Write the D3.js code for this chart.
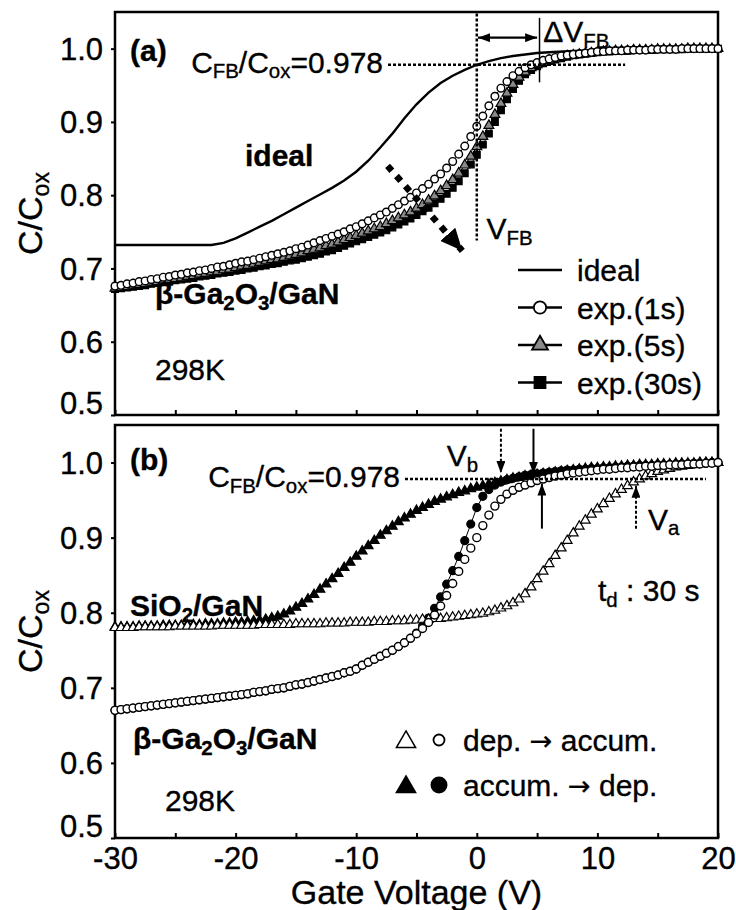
<!DOCTYPE html>
<html>
<head>
<meta charset="utf-8">
<script src="https://cdn.jsdelivr.net/npm/d3@7"></script>
<style>
  html, body { margin: 0; padding: 0; background: #fff; }
  svg text { font-family: "Liberation Sans", Arial, Helvetica, sans-serif; fill: #000; stroke: #000; stroke-width: 0.35px; }
</style>
</head>
<body>
<svg id="chart" width="736" height="910"></svg>
<script>
// Gate-voltage sweep points (V), shared by every measured C-V series
const sweepV = [-30,-29.5,-29,-28.5,-28,-27.5,-27,-26.5,-26,-25.5,-25,-24.5,-24,-23.5,-23,-22.5,-22,-21.5,-21,-20.5,-20,
  -19.5,-19,-18.5,-18,-17.5,-17,-16.5,-16,-15.5,-15,-14.5,-14,-13.5,-13,-12.5,-12,-11.5,-11,-10.5,-10,
  -9.5,-9,-8.5,-8,-7.5,-7,-6.5,-6,-5.5,-5,-4.5,-4,-3.5,-3,-2.5,-2,-1.5,-1,-0.5,0,
  0.5,1,1.5,2,2.5,3,3.5,4,4.5,5,5.5,6,6.5,7,7.5,8,8.5,9,9.5,10,
  10.5,11,11.5,12,12.5,13,13.5,14,14.5,15,15.5,16,16.5,17,17.5,18,18.5,19,19.5,20];

// (a) ideal C-V curve
const idealV = [-30,-22,-21,-20,-19,-18,-17,-16,-15,-14,-13,-12,-11,-10,-9,-8,-7,-6,-5,-4,-3,-2,-1,0,
  1,2,3,4,5,6,8,10,12,15,20];
const idealC = [0.732,0.732,0.735,0.741,0.749,0.757,0.765,0.774,0.783,0.792,0.801,0.810,0.820,0.832,0.847,0.865,0.884,0.905,0.924,0.940,0.953,0.963,0.971,0.978,
  0.983,0.987,0.990,0.992,0.994,0.995,0.997,0.998,0.999,1.0,1.0];

// (a) beta-Ga2O3/GaN, delay 1 s
const exp1s = [0.676,0.677,0.679,0.680,0.682,0.683,0.685,0.686,0.688,0.689,0.691,0.692,0.694,0.695,0.697,0.698,0.700,0.702,0.703,0.705,0.707,
  0.709,0.710,0.712,0.714,0.716,0.718,0.720,0.722,0.724,0.727,0.729,0.732,0.735,0.738,0.741,0.744,0.747,0.750,0.754,0.757,
  0.761,0.765,0.769,0.773,0.777,0.782,0.787,0.792,0.797,0.803,0.809,0.815,0.822,0.829,0.837,0.846,0.856,0.867,0.880,0.894,
  0.908,0.922,0.935,0.946,0.955,0.963,0.969,0.974,0.978,0.981,0.984,0.986,0.988,0.990,0.991,0.992,0.993,0.994,0.995,0.996,
  0.996,0.997,0.997,0.997,0.998,0.998,0.998,0.998,0.999,0.999,0.999,0.999,0.999,1.000,1.000,1.000,1.000,1.000,1.000,1.000];

// (a) delay 5 s
const exp5s = [0.673,0.674,0.675,0.677,0.678,0.679,0.681,0.682,0.683,0.685,0.686,0.687,0.689,0.690,0.692,0.693,0.695,0.696,0.698,0.699,0.701,
  0.703,0.704,0.706,0.708,0.710,0.712,0.713,0.715,0.717,0.719,0.721,0.724,0.726,0.728,0.731,0.733,0.736,0.739,0.742,0.745,
  0.748,0.751,0.754,0.757,0.761,0.765,0.769,0.773,0.777,0.782,0.787,0.793,0.799,0.806,0.813,0.821,0.830,0.841,0.853,0.866,
  0.880,0.895,0.910,0.925,0.939,0.951,0.961,0.968,0.974,0.978,0.981,0.984,0.986,0.988,0.990,0.991,0.992,0.993,0.994,0.995,
  0.996,0.996,0.997,0.997,0.997,0.998,0.998,0.998,0.998,0.999,0.999,0.999,0.999,0.999,1.000,1.000,1.000,1.000,1.000,1.000];

// (a) delay 30 s
const exp30s = [0.672,0.673,0.674,0.675,0.676,0.677,0.679,0.680,0.681,0.682,0.684,0.685,0.686,0.687,0.689,0.690,0.691,0.693,0.694,0.695,0.697,
  0.698,0.700,0.701,0.703,0.704,0.706,0.707,0.709,0.711,0.712,0.714,0.716,0.718,0.720,0.723,0.725,0.728,0.731,0.734,0.737,
  0.740,0.743,0.746,0.749,0.752,0.756,0.760,0.764,0.768,0.773,0.778,0.783,0.789,0.795,0.802,0.810,0.819,0.830,0.842,0.855,
  0.869,0.884,0.900,0.916,0.931,0.945,0.956,0.965,0.971,0.976,0.980,0.983,0.985,0.987,0.989,0.991,0.992,0.993,0.994,0.995,
  0.996,0.996,0.997,0.997,0.997,0.998,0.998,0.998,0.998,0.999,0.999,0.999,0.999,0.999,1.000,1.000,1.000,1.000,1.000,1.000];

// (b) SiO2/GaN, depletion -> accumulation (open triangles)
const sio2Dep = [0.780,0.780,0.780,0.780,0.781,0.781,0.781,0.781,0.781,0.781,0.782,0.782,0.782,0.782,0.782,0.782,0.782,0.783,0.783,0.783,0.783,
  0.783,0.783,0.783,0.784,0.784,0.784,0.784,0.784,0.784,0.785,0.785,0.785,0.785,0.785,0.786,0.786,0.786,0.786,0.787,0.787,
  0.787,0.787,0.788,0.788,0.788,0.789,0.789,0.789,0.790,0.790,0.791,0.791,0.792,0.792,0.793,0.794,0.795,0.796,0.797,0.798,
  0.799,0.801,0.803,0.806,0.809,0.813,0.818,0.825,0.834,0.845,0.855,0.865,0.876,0.886,0.896,0.906,0.915,0.923,0.931,0.938,
  0.945,0.952,0.958,0.964,0.969,0.974,0.978,0.982,0.985,0.988,0.990,0.992,0.994,0.995,0.996,0.997,0.998,0.999,0.999,1.000];

// (b) SiO2/GaN, accumulation -> depletion (filled triangles)
const sio2Acc = [0.781,0.781,0.781,0.781,0.782,0.782,0.782,0.782,0.783,0.783,0.783,0.783,0.784,0.784,0.784,0.785,0.785,0.785,0.786,0.786,0.787,
  0.787,0.788,0.789,0.790,0.791,0.793,0.795,0.798,0.802,0.807,0.812,0.818,0.824,0.831,0.838,0.845,0.852,0.860,0.867,0.875,
  0.882,0.889,0.896,0.903,0.909,0.915,0.921,0.926,0.931,0.936,0.940,0.944,0.948,0.951,0.954,0.957,0.960,0.962,0.965,0.967,
  0.969,0.971,0.973,0.975,0.977,0.979,0.980,0.982,0.983,0.984,0.985,0.986,0.987,0.988,0.989,0.990,0.991,0.992,0.993,0.993,
  0.994,0.994,0.995,0.995,0.996,0.996,0.997,0.997,0.997,0.998,0.998,0.998,0.999,0.999,0.999,0.999,1.000,1.000,1.000,1.000];

// (b) beta-Ga2O3/GaN, depletion -> accumulation (open circles)
const gaDep = [0.670,0.671,0.672,0.673,0.674,0.675,0.676,0.677,0.678,0.679,0.680,0.681,0.682,0.683,0.684,0.685,0.686,0.687,0.688,0.689,0.690,
  0.691,0.692,0.694,0.695,0.696,0.698,0.699,0.700,0.702,0.704,0.705,0.707,0.709,0.711,0.713,0.715,0.717,0.720,0.722,0.725,
  0.730,0.734,0.738,0.742,0.746,0.750,0.755,0.760,0.766,0.772,0.779,0.787,0.797,0.809,0.823,0.839,0.855,0.871,0.886,0.900,
  0.916,0.930,0.942,0.951,0.958,0.963,0.967,0.970,0.973,0.976,0.978,0.980,0.982,0.983,0.985,0.986,0.987,0.988,0.989,0.990,
  0.991,0.991,0.992,0.993,0.993,0.994,0.994,0.995,0.995,0.996,0.996,0.997,0.997,0.997,0.998,0.998,0.998,0.999,0.999,1.000];

// (b) beta-Ga2O3/GaN, accumulation -> depletion (filled circles)
const gaAcc = [0.670,0.671,0.672,0.673,0.674,0.675,0.676,0.677,0.678,0.679,0.680,0.681,0.682,0.683,0.684,0.685,0.686,0.687,0.688,0.689,0.690,
  0.691,0.692,0.694,0.695,0.696,0.698,0.699,0.700,0.702,0.704,0.705,0.707,0.709,0.711,0.713,0.715,0.717,0.720,0.722,0.725,
  0.730,0.734,0.738,0.742,0.746,0.750,0.755,0.760,0.766,0.773,0.782,0.793,0.806,0.821,0.838,0.856,0.875,0.896,0.918,0.940,
  0.955,0.964,0.970,0.974,0.977,0.979,0.981,0.983,0.984,0.985,0.986,0.987,0.988,0.989,0.990,0.990,0.991,0.991,0.992,0.992,
  0.993,0.993,0.994,0.994,0.995,0.995,0.996,0.996,0.996,0.997,0.997,0.997,0.998,0.998,0.998,0.999,0.999,0.999,1.000,1.000];

// axis ticks
const xTicks = [-30,-25,-20,-15,-10,-5,0,5,10,15,20];
const xLabelTicks = [-30,-20,-10,0,10,20];
const yTicks = [0.5,0.6,0.7,0.8,0.9,1.0];

// flat-band reference
const cfbRatio = 0.978;

const svg = d3.select("#chart");
const FONT = 30;

const x = d3.scaleLinear().domain([-30, 20]).range([115, 718]);
const yA = d3.scaleLinear().domain([0.5, 1.05]).range([415, 12]);
const yB = d3.scaleLinear().domain([0.5, 1.05]).range([838, 425]);

// arrowhead markers
const defs = svg.append("defs");
function arrowMarker(id, w, h) {
  defs.append("marker").attr("id", id)
    .attr("viewBox", `0 0 ${w} ${h}`).attr("refX", w).attr("refY", h / 2)
    .attr("markerUnits", "userSpaceOnUse")
    .attr("markerWidth", w).attr("markerHeight", h).attr("orient", "auto-start-reverse")
    .append("path").attr("d", `M0,0L${w},${h / 2}L0,${h}Z`).attr("fill", "#000");
}
arrowMarker("headSmall", 12, 9);
arrowMarker("headBig", 22, 20);

// text with optional subscript pieces: parts = ["C", ["FB","sub"], ...]
function richText(g, tx, ty, parts, opt = {}) {
  const size = opt.size || FONT;
  const t = g.append("text")
    .attr("x", tx).attr("y", ty)
    .attr("font-size", size)
    .attr("font-weight", opt.weight || "normal")
    .attr("text-anchor", opt.anchor || "start")
    .attr("dominant-baseline", "central");
  if (opt.transform) t.attr("transform", opt.transform);
  let off = 0;
  parts.forEach(p => {
    const s = Array.isArray(p) ? p[0] : p;
    const kind = Array.isArray(p) ? p[1] : null;
    const target = kind === "sub" ? size * 0.32 : 0;
    const ts = t.append("tspan").text(s).attr("dy", target - off);
    if (kind === "sub") ts.attr("font-size", size * 0.68);
    if (kind === "sym") ts.attr("font-family", "DejaVu Sans").attr("font-size", size * 0.9);
    off = target;
  });
  return t;
}

function frame(g, y, showXLabels) {
  // y axis
  const ya = g.append("g").attr("transform", `translate(${x.range()[0]},0)`)
    .call(d3.axisLeft(y).tickValues(yTicks).tickSize(4).tickPadding(8).tickFormat(d3.format(".1f")));
  ya.select(".domain").remove();
  ya.selectAll(".tick line").attr("stroke-width", 2);
  ya.selectAll(".tick text").attr("font-size", 31).attr("font-family", null)
    .attr("dy", d => d === 0.5 ? "-0.05em" : "0.34em");
  // x axis (ticks pointing inward)
  const xa = g.append("g").attr("transform", `translate(0,${y.range()[0]})`)
    .call(d3.axisBottom(x).tickValues(xTicks).tickSize(-5).tickPadding(6)
      .tickFormat(d => showXLabels && xLabelTicks.includes(d) ? String(d) : ""));
  xa.select(".domain").remove();
  xa.selectAll(".tick line").attr("stroke-width", 2);
  xa.selectAll(".tick text").attr("font-size", 31).attr("font-family", null).attr("dy", "0.8em");
  // plot border
  g.append("rect")
    .attr("x", x.range()[0]).attr("y", y.range()[1])
    .attr("width", x.range()[1] - x.range()[0]).attr("height", y.range()[0] - y.range()[1])
    .attr("fill", "none").attr("stroke", "#000").attr("stroke-width", 2.5);
}

function series(g, y, vals, shape, size, fill, lineW, strokeW) {
  const data = vals.map((c, i) => ({ v: sweepV[i], c }));
  if (lineW) {
    g.append("path").datum(data)
      .attr("d", d3.line().x(d => x(d.v)).y(d => y(d.c)))
      .attr("fill", "none").attr("stroke", "#000").attr("stroke-width", lineW);
  }
  g.append("g").selectAll("path").data(data).join("path")
    .attr("transform", d => `translate(${x(d.v)},${y(d.c)})`)
    .attr("d", d3.symbol(shape, size)())
    .attr("fill", fill).attr("stroke", "#000").attr("stroke-width", strokeW || 1.2);
}

function cfbLine(g, y, textEnd, lineStart, lineEnd) {
  richText(g, textEnd, y(cfbRatio) - 3, ["C", ["FB", "sub"], "/C", ["ox", "sub"], "=0.978"], { anchor: "end" });
  g.append("line")
    .attr("x1", lineStart).attr("x2", lineEnd)
    .attr("y1", y(cfbRatio)).attr("y2", y(cfbRatio))
    .attr("stroke", "#000").attr("stroke-width", 2.5).attr("stroke-dasharray", "3,2");
}

function yTitle(y) {
  const mid = (y.range()[0] + y.range()[1]) / 2;
  richText(svg, 0, 0, ["C/C", ["ox", "sub"]], {
    size: 34, anchor: "middle", transform: `translate(30,${mid}) rotate(-90)`
  });
}

// ---------- panel (a) ----------
const gA = svg.append("g");
frame(gA, yA, false);

gA.append("path").datum(idealV.map((v, i) => ({ v, c: idealC[i] })))
  .attr("d", d3.line().x(d => x(d.v)).y(d => yA(d.c)))
  .attr("fill", "none").attr("stroke", "#000").attr("stroke-width", 2.4);

series(gA, yA, exp30s, d3.symbolSquare, 46, "#000", 1);
series(gA, yA, exp5s, d3.symbolTriangle, 42, "#8a8a8a", 1);
series(gA, yA, exp1s, d3.symbolCircle, 46, "#fff", 1, 1.4);

// flat-band guides
cfbLine(gA, yA, 383, 388, x(12.3));
gA.append("line").attr("x1", x(0)).attr("x2", x(0)).attr("y1", yA(1.048)).attr("y2", yA(0.738))
  .attr("stroke", "#000").attr("stroke-width", 2.5).attr("stroke-dasharray", "3,2");
gA.append("line").attr("x1", x(5.2)).attr("x2", x(5.2)).attr("y1", yA(1.042)).attr("y2", yA(0.954))
  .attr("stroke", "#000").attr("stroke-width", 1.5);
gA.append("line").attr("x1", x(0.1)).attr("x2", x(5.0)).attr("y1", yA(1.015)).attr("y2", yA(1.015))
  .attr("stroke", "#000").attr("stroke-width", 2.4)
  .attr("marker-start", "url(#headSmall)").attr("marker-end", "url(#headSmall)");
richText(gA, x(5.5), yA(1.024), ["\u0394V", ["FB", "sub"]]);
richText(gA, x(0.8), yA(0.755), ["V", ["FB", "sub"]]);

// shift arrow
gA.append("line").attr("x1", x(-7.4)).attr("y1", yA(0.840)).attr("x2", x(-1.2)).attr("y2", yA(0.724))
  .attr("stroke", "#000").attr("stroke-width", 6.5).attr("stroke-dasharray", "6.5,7")
  .attr("marker-end", "url(#headBig)");

richText(gA, 130, yA(0.998), ["(a)"], { weight: "bold" });
richText(gA, 245, yA(0.855), ["ideal"], { weight: "bold" });
richText(gA, 155, yA(0.666), ["\u03b2-Ga", ["2", "sub"], "O", ["3", "sub"], "/GaN"], { weight: "bold" });
richText(gA, 155, yA(0.563), ["298K"]);

// legend (a)
const legA = [
  { label: "ideal", shape: null, fill: null },
  { label: "exp.(1s)", shape: d3.symbolCircle, fill: "#fff", size: 120 },
  { label: "exp.(5s)", shape: d3.symbolTriangle, fill: "#8a8a8a", size: 110 },
  { label: "exp.(30s)", shape: d3.symbolSquare, fill: "#000", size: 120 }
];
legA.forEach((d, i) => {
  const ly = 270 + i * 37.5;
  gA.append("line").attr("x1", 518).attr("x2", 562).attr("y1", ly).attr("y2", ly)
    .attr("stroke", "#000").attr("stroke-width", 2.4);
  if (d.shape) {
    gA.append("path").attr("transform", `translate(540,${ly})`)
      .attr("d", d3.symbol(d.shape, d.size)()).attr("fill", d.fill)
      .attr("stroke", "#000").attr("stroke-width", 1.8);
  }
  richText(gA, 577, ly, [d.label]);
});

// ---------- panel (b) ----------
const gB = svg.append("g");
frame(gB, yB, true);

series(gB, yB, sio2Acc, d3.symbolTriangle, 40, "#000", 0);
series(gB, yB, gaAcc, d3.symbolCircle, 50, "#000", 1);
series(gB, yB, sio2Dep, d3.symbolTriangle, 40, "#fff", 1);
series(gB, yB, gaDep, d3.symbolCircle, 50, "#fff", 0, 1.4);

cfbLine(gB, yB, 400, 405, x(19));

// V_b (dotted) and the two solid arrows, V_a (dotted)
gB.append("line").attr("x1", x(2.0)).attr("x2", x(2.0)).attr("y1", yB(1.045)).attr("y2", yB(0.986))
  .attr("stroke", "#000").attr("stroke-width", 2).attr("stroke-dasharray", "3,2")
  .attr("marker-end", "url(#headSmall)");
gB.append("line").attr("x1", x(4.7)).attr("x2", x(4.7)).attr("y1", yB(1.045)).attr("y2", yB(0.985))
  .attr("stroke", "#000").attr("stroke-width", 2)
  .attr("marker-end", "url(#headSmall)");
gB.append("line").attr("x1", x(5.4)).attr("x2", x(5.4)).attr("y1", yB(0.912)).attr("y2", yB(0.972))
  .attr("stroke", "#000").attr("stroke-width", 2)
  .attr("marker-end", "url(#headSmall)");
gB.append("line").attr("x1", x(13.2)).attr("x2", x(13.2)).attr("y1", yB(0.912)).attr("y2", yB(0.969))
  .attr("stroke", "#000").attr("stroke-width", 2).attr("stroke-dasharray", "3,2")
  .attr("marker-end", "url(#headSmall)");
richText(gB, x(-2.5), yB(1.01), ["V", ["b", "sub"]]);
richText(gB, x(14.2), yB(0.925), ["V", ["a", "sub"]]);

richText(gB, 130, yB(1.005), ["(b)"], { weight: "bold" });
richText(gB, 130, yB(0.81), ["SiO", ["2", "sub"], "/GaN"], { weight: "bold" });
richText(gB, 598, yB(0.83), ["t", ["d", "sub"], " : 30 s"]);
richText(gB, 133, yB(0.633), ["\u03b2-Ga", ["2", "sub"], "O", ["3", "sub"], "/GaN"], { weight: "bold" });
richText(gB, 165, yB(0.55), ["298K"]);

// legend (b)
const legB = [
  { parts: ["dep. ", ["\u2192", "sym"], " accum."], fill: "#fff", ly: 740 },
  { parts: ["accum. ", ["\u2192", "sym"], " dep."], fill: "#000", ly: 785 }
];
legB.forEach(d => {
  gB.append("path").attr("transform", `translate(406,${d.ly + 2})`)
    .attr("d", d3.symbol(d3.symbolTriangle, 160)()).attr("fill", d.fill)
    .attr("stroke", "#000").attr("stroke-width", 1.5);
  gB.append("path").attr("transform", `translate(439,${d.ly})`)
    .attr("d", d3.symbol(d3.symbolCircle, d.fill === "#fff" ? 95 : 180)()).attr("fill", d.fill)
    .attr("stroke", "#000").attr("stroke-width", 1.8);
  richText(gB, 463, d.ly, d.parts);
});

// axis titles
yTitle(yA);
yTitle(yB);
svg.append("text").attr("x", (x.range()[0] + x.range()[1]) / 2).attr("y", 892)
  .attr("text-anchor", "middle").attr("dominant-baseline", "central")
  .attr("font-size", 34).text("Gate Voltage (V)");
</script>
</body>
</html>
